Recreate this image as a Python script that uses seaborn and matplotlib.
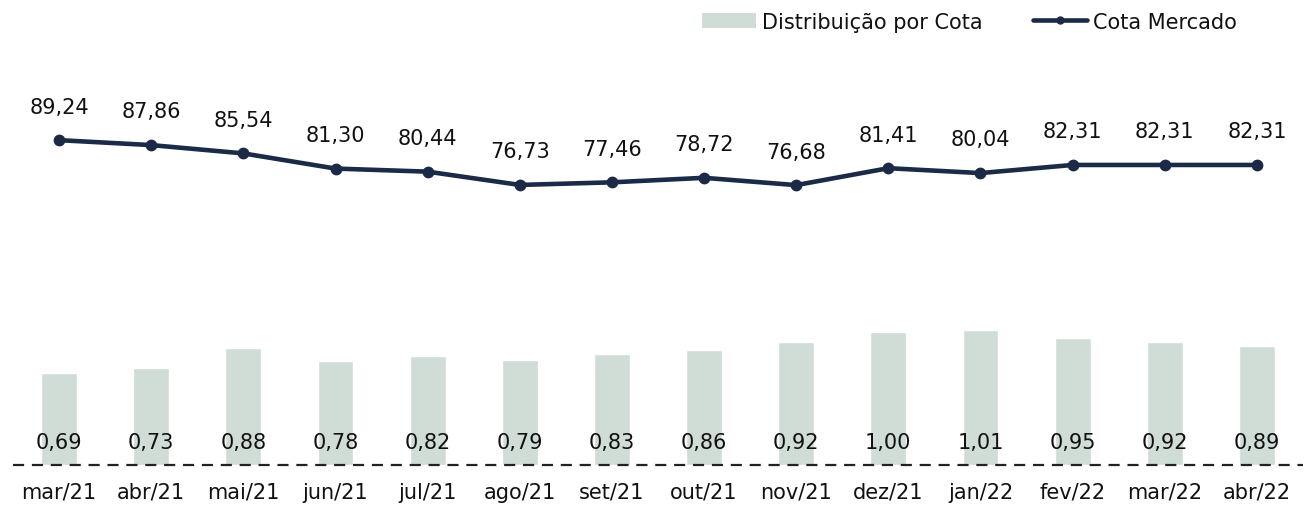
import matplotlib
matplotlib.use("Agg")
import matplotlib.pyplot as plt
import seaborn as sns
import pandas as pd
from matplotlib.patches import Patch
from matplotlib.lines import Line2D

months = ["mar/21", "abr/21", "mai/21", "jun/21", "jul/21", "ago/21", "set/21",
          "out/21", "nov/21", "dez/21", "jan/22", "fev/22", "mar/22", "abr/22"]
distribuicao = [0.69, 0.73, 0.88, 0.78, 0.82, 0.79, 0.83, 0.86, 0.92, 1.00, 1.01, 0.95, 0.92, 0.89]
cota_mercado = [89.24, 87.86, 85.54, 81.30, 80.44, 76.73, 77.46, 78.72, 76.68, 81.41, 80.04, 82.31, 82.31, 82.31]

BAR_C = "#CFDDD6"
LINE_C = "#1B2A47"
TXT_C = "#111111"
FS = 15

sns.set_theme(style="white")
plt.rcParams['font.family'] = ['DejaVu Sans']

df = pd.DataFrame({"mes": months, "dist": distribuicao, "cota": cota_mercado})

fig = plt.figure(figsize=(13.12, 5.06), dpi=100)
ax = fig.add_axes([13/1312, 40/506, 1290/1312, 416/506])
sns.barplot(data=df, x="mes", y="dist", color=BAR_C, width=0.39, ax=ax, saturation=1)
ax.set_ylim(0, 416/133.5)
ax.set_xlim(-0.5, len(months) - 0.5)

ax2 = ax.twinx()
sns.pointplot(data=df, x="mes", y="cota", color=LINE_C, ax=ax2, markers="o",
              markersize=6, linewidth=3.3)
lo = -1.5
ax2.set_ylim(lo, lo + 416/3.58)
ax2.set_xlim(-0.5, len(months) - 0.5)

for i, v in enumerate(distribuicao):
    ax.text(i, 0.1, f"{v:.2f}".replace(".", ","), ha="center", va="bottom",
            fontsize=FS, color=TXT_C)
for i, v in enumerate(cota_mercado):
    ax2.annotate(f"{v:.2f}".replace(".", ","), (i, v), xytext=(0, 17),
                 textcoords="offset points", ha="center", va="bottom",
                 fontsize=FS, color=TXT_C)

ax.axhline(0, color="#222222", lw=1.6, ls=(0, (5, 3.5)), zorder=5, clip_on=False)

for a in (ax, ax2):
    for s in a.spines.values():
        s.set_visible(False)
    a.set_yticks([])
    a.set_ylabel("")
    a.set_xlabel("")
ax2.tick_params(axis="x", length=0)
ax.tick_params(axis="x", length=0, pad=12, labelsize=FS, colors=TXT_C)

handles = [Patch(facecolor=BAR_C, edgecolor="none", label="Distribuição por Cota"),
           Line2D([0], [0], color=LINE_C, lw=3.3, marker="o", markersize=5,
                  label="Cota Mercado")]
fig.legend(handles=handles, loc="upper right", bbox_to_anchor=(0.957, 1.012), ncol=2,
           frameon=False, fontsize=FS, handlelength=2.6, handletextpad=0.3,
           columnspacing=2.4, labelcolor=TXT_C)

fig.savefig("out.png", dpi=100)
